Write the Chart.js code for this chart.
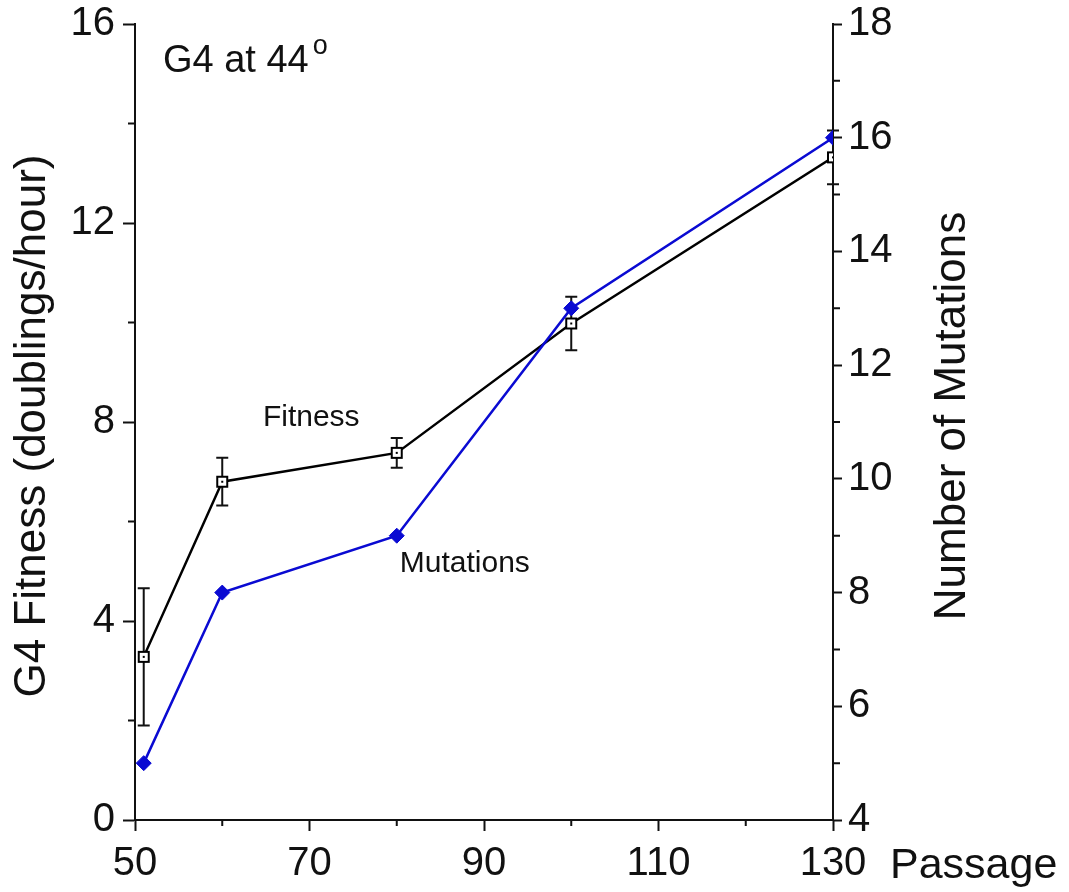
<!DOCTYPE html>
<html lang="en">
<head>
<meta charset="UTF-8">
<title>G4 at 44</title>
<style>
  body { margin: 0; background: #fff; }
  canvas { display: block; }
</style>
</head>
<body>
<canvas id="myChart" width="1069" height="892"></canvas>

<script src="https://cdn.jsdelivr.net/npm/chart.js"></script>
<script>
// data
const passage = [51, 60, 80, 100, 130];
const fitness = [3.28, 6.8, 7.38, 9.98, 13.32];
const fitnessErr = [1.38, 0.48, 0.3, 0.54, 0.54];
const mutations = [5, 8, 9, 13, 16];

const xTicks = [50, 70, 90, 110, 130];
const xMinor = [60, 80, 100, 120];
const leftMinor = [2, 6, 10, 14];
const rightMinor = [5, 7, 9, 11, 13, 15, 17];

const FONT = '"Liberation Sans", Arial, Helvetica, sans-serif';
const INK = '#111';
const BLUE = '#0a0ad2';

// open square with a dot in the middle
function squareMarker() {
  const c = document.createElement('canvas');
  c.width = 14; c.height = 14;
  const g = c.getContext('2d');
  g.fillStyle = '#fff';
  g.fillRect(1, 1, 12, 12);
  g.strokeStyle = '#000';
  g.lineWidth = 2;
  g.strokeRect(2, 2, 10, 10);
  g.fillStyle = '#000';
  g.fillRect(6, 6, 2, 2);
  return c;
}

const extras = {
  id: 'extras',
  beforeDatasetsDraw(chart) {
    // error bars for fitness
    const ctx = chart.ctx, xs = chart.scales.x, ys = chart.scales.y;
    ctx.save();
    ctx.strokeStyle = INK;
    ctx.lineWidth = 2;
    passage.forEach((p, i) => {
      const px = xs.getPixelForValue(p);
      const top = ys.getPixelForValue(fitness[i] + fitnessErr[i]);
      const bot = ys.getPixelForValue(fitness[i] - fitnessErr[i]);
      ctx.beginPath();
      ctx.moveTo(px, top); ctx.lineTo(px, bot);
      ctx.moveTo(px - 6, top); ctx.lineTo(px + 6, top);
      ctx.moveTo(px - 6, bot); ctx.lineTo(px + 6, bot);
      ctx.stroke();
    });
    ctx.restore();
  },
  afterDraw(chart) {
    const ctx = chart.ctx, a = chart.chartArea;
    const xs = chart.scales.x, ys = chart.scales.y, y2 = chart.scales.y2;
    ctx.save();
    // minor ticks
    ctx.strokeStyle = INK;
    ctx.lineWidth = 2;
    ctx.beginPath();
    xMinor.forEach(v => {
      const px = xs.getPixelForValue(v);
      ctx.moveTo(px, a.bottom); ctx.lineTo(px, a.bottom + 6);
    });
    leftMinor.forEach(v => {
      const py = ys.getPixelForValue(v);
      ctx.moveTo(a.left, py); ctx.lineTo(a.left - 7, py);
    });
    rightMinor.forEach(v => {
      const py = y2.getPixelForValue(v);
      ctx.moveTo(a.right, py); ctx.lineTo(a.right + 7, py);
    });
    ctx.stroke();

    // text annotations
    ctx.fillStyle = INK;
    ctx.textBaseline = 'middle';
    ctx.textAlign = 'left';
    ctx.font = '38px ' + FONT;
    const gx = xs.getPixelForValue(53.2), gy = ys.getPixelForValue(15.25);
    ctx.fillText('G4 at 44', gx, gy);
    const w = ctx.measureText('G4 at 44').width;
    ctx.font = '27px ' + FONT;
    ctx.fillText('o', gx + w + 4, gy - 15);

    ctx.textAlign = 'center';
    ctx.font = '30px ' + FONT;
    ctx.fillText('Fitness', xs.getPixelForValue(70.2), ys.getPixelForValue(8.08));
    ctx.fillText('Mutations', xs.getPixelForValue(87.8), ys.getPixelForValue(5.15));

    ctx.textAlign = 'left';
    ctx.font = '43px ' + FONT;
    ctx.fillText('Passage', 890, xs.top + 46);

    // axis titles, both read bottom to top
    const midY = (a.top + a.bottom) / 2;
    ctx.font = '44px ' + FONT;
    ctx.textAlign = 'center';
    ctx.translate(33, midY + 4);
    ctx.rotate(-Math.PI / 2);
    ctx.fillText('G4 Fitness (doublings/hour)', 0, 0);
    ctx.setTransform(1, 0, 0, 1, 0, 0);
    ctx.translate(953, midY - 6);
    ctx.rotate(-Math.PI / 2);
    ctx.fillText('Number of Mutations', 0, 0);
    ctx.restore();
  }
};

function axisStyle(len) {
  return {
    grid: { drawOnChartArea: false, drawTicks: true, tickLength: len, tickWidth: 2, tickColor: INK },
    border: { color: INK, width: 2 }
  };
}

new Chart(document.getElementById('myChart'), {
  type: 'line',
  data: {
    datasets: [
      {
        label: 'Mutations',
        data: passage.map((p, i) => ({ x: p, y: mutations[i] })),
        yAxisID: 'y2',
        borderColor: BLUE,
        backgroundColor: BLUE,
        borderWidth: 2.5,
        pointStyle: 'rectRot',
        pointRadius: 7.5,
        pointBorderWidth: 1,
        tension: 0,
        order: 0
      },
      {
        label: 'Fitness',
        data: passage.map((p, i) => ({ x: p, y: fitness[i] })),
        yAxisID: 'y',
        borderColor: '#000',
        backgroundColor: '#fff',
        borderWidth: 2.4,
        pointStyle: squareMarker(),
        tension: 0,
        order: 1
      }
    ]
  },
  options: {
    responsive: false,
    animation: false,
    devicePixelRatio: 1,
    layout: { padding: { top: 24, right: 0, bottom: 0, left: 0 } },
    plugins: { legend: { display: false }, tooltip: { enabled: false } },
    scales: {
      x: {
        type: 'linear',
        min: 50, max: 130,
        afterBuildTicks: s => { s.ticks = xTicks.map(v => ({ value: v })); },
        afterFit: s => { s.height = 72; s.paddingLeft = 0; s.paddingRight = 0; },
        ticks: { color: INK, font: { family: FONT, size: 40 }, padding: 9, maxRotation: 0 },
        ...axisStyle(11)
      },
      y: {
        position: 'left',
        min: 0, max: 16,
        afterFit: s => { s.width = 135; s.paddingTop = 0; s.paddingBottom = 0; },
        ticks: { stepSize: 4, color: INK, font: { family: FONT, size: 40 }, padding: 8 },
        ...axisStyle(12)
      },
      y2: {
        position: 'right',
        min: 4, max: 18,
        afterFit: s => { s.width = 236; s.paddingTop = 0; s.paddingBottom = 0; },
        ticks: { stepSize: 2, color: INK, font: { family: FONT, size: 40 }, padding: 6 },
        ...axisStyle(9)
      }
    }
  },
  plugins: [extras]
});
</script>
</body>
</html>
